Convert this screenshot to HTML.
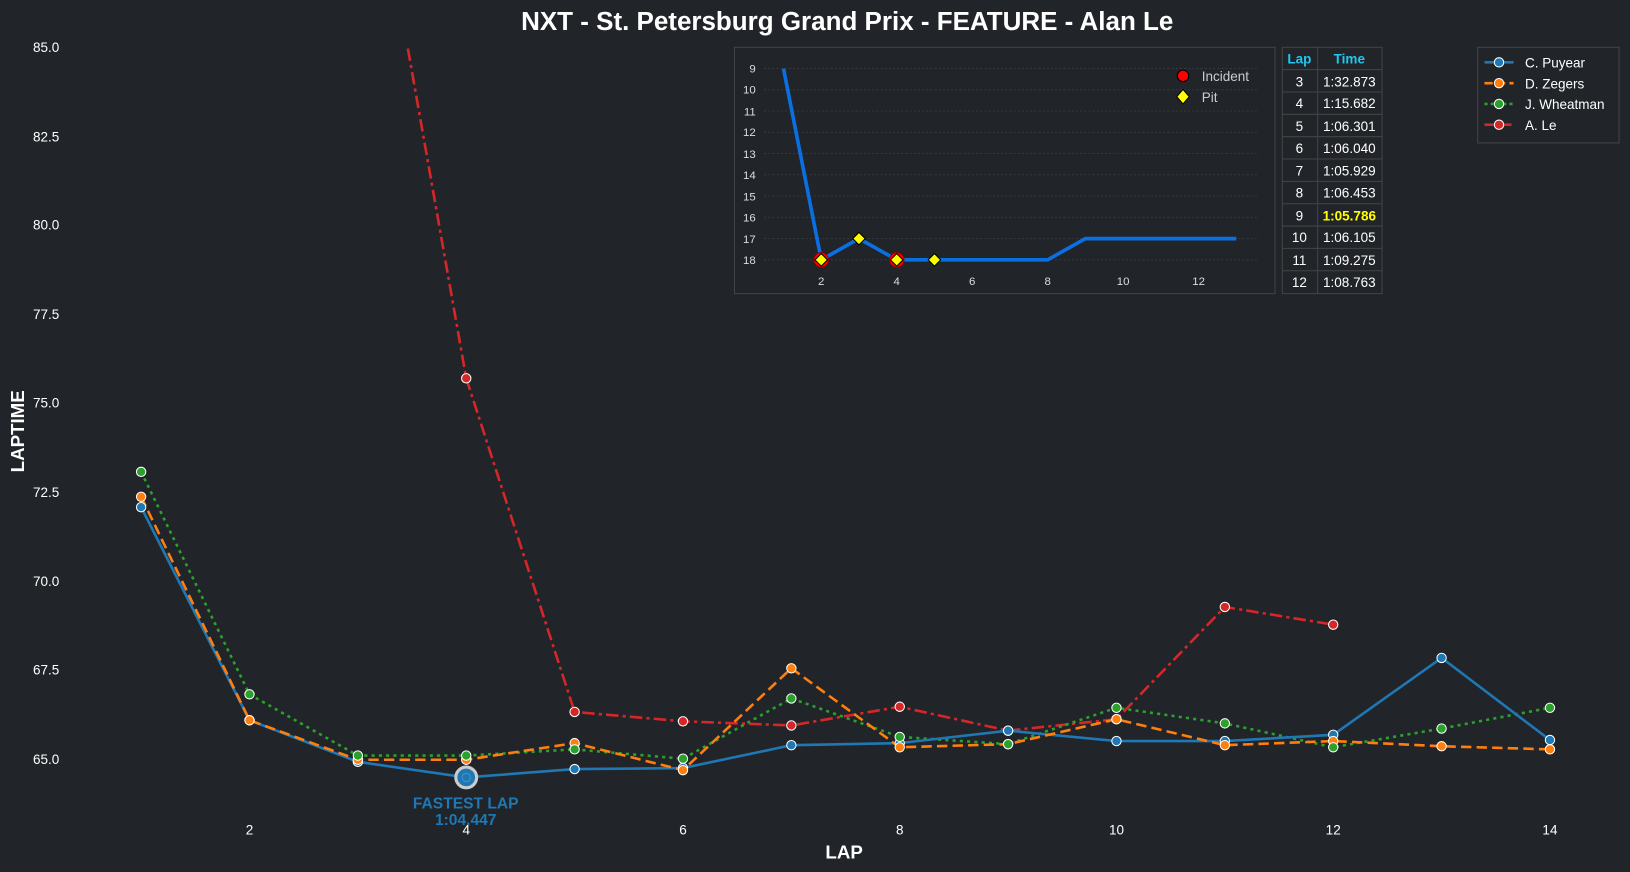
<!DOCTYPE html>
<html><head><meta charset="utf-8"><style>
body{margin:0;background:#212429;}
svg{display:block;font-family:"Liberation Sans",Arial,sans-serif;}
</style></head><body>
<svg width="1630" height="872" viewBox="0 0 1568 839" preserveAspectRatio="none" xmlns="http://www.w3.org/2000/svg">
<rect width="1568" height="839" fill="#212429"/>
<text x="815" y="29" text-anchor="middle" font-size="25" font-weight="bold" fill="#fff">NXT - St. Petersburg Grand Prix - FEATURE - Alan Le</text>
<g font-size="13" fill="#fff" text-anchor="end">
<text x="57" y="50">85.0</text><text x="57" y="136">82.5</text><text x="57" y="221">80.0</text>
<text x="57" y="307">77.5</text><text x="57" y="392">75.0</text><text x="57" y="478">72.5</text>
<text x="57" y="564">70.0</text><text x="57" y="649">67.5</text><text x="57" y="735">65.0</text>
</g>
<g font-size="13" fill="#fff" text-anchor="middle">
<text x="240" y="803">2</text><text x="448.5" y="803">4</text><text x="657" y="803">6</text>
<text x="865.5" y="803">8</text><text x="1074" y="803">10</text><text x="1282.5" y="803">12</text><text x="1491" y="803">14</text>
</g>
<text x="812" y="826" text-anchor="middle" font-size="18" font-weight="bold" fill="#fff">LAP</text>
<text x="23" y="415" text-anchor="middle" font-size="18" font-weight="bold" fill="#fff" transform="rotate(-90 23 415)">LAPTIME</text>
<defs><clipPath id="pc"><rect x="70" y="45" width="1480" height="780"/></clipPath></defs>
<g clip-path="url(#pc)" fill="none" stroke-width="2.5">
<polyline stroke="#d62728" stroke-dasharray="12,4,3,4" points="344.25,-225 448.5,364 552.75,685 657,694 761.25,698 865.5,680 969.75,703 1074,692 1178.25,584 1282.5,601"/>
<polyline stroke="#2ca02c" stroke-dasharray="3,4" points="135.75,454 240,668 344.25,727 448.5,727 552.75,721 657,730 761.25,672 865.5,709 969.75,716 1074,681 1178.25,696 1282.5,719 1386.75,701 1491,681"/>
<polyline stroke="#1f77b4" points="135.75,488 240,693 344.25,733 448.5,748 552.75,740 657,739 761.25,717 865.5,715 969.75,703 1074,713 1178.25,713 1282.5,707 1386.75,633 1491,712"/>
<polyline stroke="#ff7f0e" stroke-dasharray="10,5" points="135.75,478 240,693 344.25,731 448.5,731 552.75,715 657,741 761.25,643 865.5,719 969.75,716 1074,692 1178.25,717 1282.5,713 1386.75,718 1491,721"/>
</g>
<g stroke="#fff" stroke-width="1">
<g fill="#d62728"><circle cx="448.5" cy="364" r="4.5"/><circle cx="552.75" cy="685" r="4.5"/><circle cx="657" cy="694" r="4.5"/><circle cx="761.25" cy="698" r="4.5"/><circle cx="865.5" cy="680" r="4.5"/><circle cx="969.75" cy="703" r="4.5"/><circle cx="1074" cy="692" r="4.5"/><circle cx="1178.25" cy="584" r="4.5"/><circle cx="1282.5" cy="601" r="4.5"/></g>
<g fill="#1f77b4"><circle cx="135.75" cy="488" r="4.5"/><circle cx="240" cy="693" r="4.5"/><circle cx="344.25" cy="733" r="4.5"/><circle cx="552.75" cy="740" r="4.5"/><circle cx="657" cy="739" r="4.5"/><circle cx="761.25" cy="717" r="4.5"/><circle cx="865.5" cy="715" r="4.5"/><circle cx="969.75" cy="703" r="4.5"/><circle cx="1074" cy="713" r="4.5"/><circle cx="1178.25" cy="713" r="4.5"/><circle cx="1282.5" cy="707" r="4.5"/><circle cx="1386.75" cy="633" r="4.5"/><circle cx="1491" cy="712" r="4.5"/></g>
<g fill="#ff7f0e"><circle cx="135.75" cy="478" r="4.5"/><circle cx="240" cy="693" r="4.5"/><circle cx="344.25" cy="731" r="4.5"/><circle cx="448.5" cy="731" r="4.5"/><circle cx="552.75" cy="715" r="4.5"/><circle cx="657" cy="741" r="4.5"/><circle cx="761.25" cy="643" r="4.5"/><circle cx="865.5" cy="719" r="4.5"/><circle cx="969.75" cy="716" r="4.5"/><circle cx="1074" cy="692" r="4.5"/><circle cx="1178.25" cy="717" r="4.5"/><circle cx="1282.5" cy="713" r="4.5"/><circle cx="1386.75" cy="718" r="4.5"/><circle cx="1491" cy="721" r="4.5"/></g>
<g fill="#2ca02c"><circle cx="135.75" cy="454" r="4.5"/><circle cx="240" cy="668" r="4.5"/><circle cx="344.25" cy="727" r="4.5"/><circle cx="448.5" cy="727" r="4.5"/><circle cx="552.75" cy="721" r="4.5"/><circle cx="657" cy="730" r="4.5"/><circle cx="761.25" cy="672" r="4.5"/><circle cx="865.5" cy="709" r="4.5"/><circle cx="969.75" cy="716" r="4.5"/><circle cx="1074" cy="681" r="4.5"/><circle cx="1178.25" cy="696" r="4.5"/><circle cx="1282.5" cy="719" r="4.5"/><circle cx="1386.75" cy="701" r="4.5"/><circle cx="1491" cy="681" r="4.5"/></g>
</g>
<circle cx="448.5" cy="748" r="10" fill="#1f77b4" stroke="#ccc" stroke-width="3"/>
<circle cx="448.5" cy="748" r="4" fill="none" stroke="#4a90c8" stroke-width="1"/>
<text x="448" y="778" text-anchor="middle" font-size="15" font-weight="bold" fill="#1f77b4">FASTEST LAP</text>
<text x="448" y="794" text-anchor="middle" font-size="15" font-weight="bold" fill="#1f77b4">1:04.447</text>
<!-- inset -->
<rect x="706.5" y="45.5" width="520" height="237" fill="#212429" stroke="#444" stroke-width="1"/>
<g stroke="#3a3d42" stroke-width="0.8" stroke-dasharray="2,2">
<line x1="735" x2="1210" y1="66" y2="66"/><line x1="735" x2="1210" y1="86.4" y2="86.4"/><line x1="735" x2="1210" y1="106.9" y2="106.9"/><line x1="735" x2="1210" y1="127.3" y2="127.3"/><line x1="735" x2="1210" y1="147.8" y2="147.8"/><line x1="735" x2="1210" y1="168.2" y2="168.2"/><line x1="735" x2="1210" y1="188.7" y2="188.7"/><line x1="735" x2="1210" y1="209.1" y2="209.1"/><line x1="735" x2="1210" y1="229.6" y2="229.6"/><line x1="735" x2="1210" y1="250" y2="250"/>
</g>
<g font-size="11" fill="#ddd" text-anchor="end">
<text x="727" y="70">9</text><text x="727" y="90">10</text><text x="727" y="111">11</text><text x="727" y="131">12</text><text x="727" y="152">13</text><text x="727" y="172">14</text><text x="727" y="193">15</text><text x="727" y="213">16</text><text x="727" y="234">17</text><text x="727" y="254">18</text>
</g>
<g font-size="11" fill="#ddd" text-anchor="middle">
<text x="790" y="274">2</text><text x="862.6" y="274">4</text><text x="935.2" y="274">6</text><text x="1007.8" y="274">8</text><text x="1080.4" y="274">10</text><text x="1153" y="274">12</text>
</g>
<polyline fill="none" stroke="#0a6fe0" stroke-width="3.5" points="753.7,66 790,250 826.3,229.6 862.6,250 898.9,250 935.2,250 971.5,250 1007.8,250 1044.1,229.6 1080.4,229.6 1116.7,229.6 1153,229.6 1189.3,229.6"/>
<circle cx="790" cy="250" r="7" fill="#f00" stroke="#900"/><circle cx="862.6" cy="250" r="7" fill="#f00" stroke="#900"/>
<g fill="#ff0" stroke="#000" stroke-width="1">
<polygon points="790,244 796,250 790,256 784,250"/><polygon points="826.3,223.6 832.3,229.6 826.3,235.6 820.3,229.6"/><polygon points="862.6,244 868.6,250 862.6,256 856.6,250"/><polygon points="898.9,244 904.9,250 898.9,256 892.9,250"/>
</g>
<circle cx="1138" cy="73" r="5.5" fill="#f00" stroke="#000"/>
<polygon points="1138,86 1144,93 1138,100 1132,93" fill="#ff0" stroke="#000"/>
<text x="1156" y="78" font-size="13" fill="#ccc">Incident</text>
<text x="1156" y="98" font-size="13" fill="#ccc">Pit</text>
<!-- table -->
<g stroke="#444" stroke-width="1" fill="none">
<rect x="1233.5" y="45.5" width="96" height="237"/>
<line x1="1267.5" y1="45.5" x2="1267.5" y2="282.5"/>
<line x1="1233.5" x2="1329.5" y1="67" y2="67"/><line x1="1233.5" x2="1329.5" y1="88.5" y2="88.5"/><line x1="1233.5" x2="1329.5" y1="110" y2="110"/><line x1="1233.5" x2="1329.5" y1="131.5" y2="131.5"/><line x1="1233.5" x2="1329.5" y1="153" y2="153"/><line x1="1233.5" x2="1329.5" y1="174.5" y2="174.5"/><line x1="1233.5" x2="1329.5" y1="196" y2="196"/><line x1="1233.5" x2="1329.5" y1="217.5" y2="217.5"/><line x1="1233.5" x2="1329.5" y1="239" y2="239"/><line x1="1233.5" x2="1329.5" y1="260.5" y2="260.5"/>
</g>
<g font-size="13" text-anchor="middle" fill="#fff">
<text x="1250" y="61" fill="#1ec8f0" font-weight="bold">Lap</text><text x="1298" y="61" fill="#1ec8f0" font-weight="bold">Time</text>
<text x="1250" y="83">3</text><text x="1298" y="83">1:32.873</text>
<text x="1250" y="104">4</text><text x="1298" y="104">1:15.682</text>
<text x="1250" y="126">5</text><text x="1298" y="126">1:06.301</text>
<text x="1250" y="147">6</text><text x="1298" y="147">1:06.040</text>
<text x="1250" y="169">7</text><text x="1298" y="169">1:05.929</text>
<text x="1250" y="190">8</text><text x="1298" y="190">1:06.453</text>
<text x="1250" y="212">9</text><text x="1298" y="212" fill="#ff0" font-weight="bold">1:05.786</text>
<text x="1250" y="233">10</text><text x="1298" y="233">1:06.105</text>
<text x="1250" y="255">11</text><text x="1298" y="255">1:09.275</text>
<text x="1250" y="276">12</text><text x="1298" y="276">1:08.763</text>
</g>
<!-- legend -->
<rect x="1421.5" y="45.5" width="136" height="92" fill="#212429" stroke="#444"/>
<g stroke-width="2.5" fill="none">
<line x1="1428" x2="1456" y1="60" y2="60" stroke="#1f77b4"/>
<line x1="1428" x2="1456" y1="80" y2="80" stroke="#ff7f0e" stroke-dasharray="8,4"/>
<line x1="1428" x2="1456" y1="100" y2="100" stroke="#2ca02c" stroke-dasharray="3,3"/>
<line x1="1428" x2="1456" y1="120" y2="120" stroke="#d62728" stroke-dasharray="9,3,2,3"/>
</g>
<g stroke="#fff"><circle cx="1442" cy="60" r="4.5" fill="#1f77b4"/><circle cx="1442" cy="80" r="4.5" fill="#ff7f0e"/><circle cx="1442" cy="100" r="4.5" fill="#2ca02c"/><circle cx="1442" cy="120" r="4.5" fill="#d62728"/></g>
<g font-size="13" fill="#fff">
<text x="1467" y="65">C. Puyear</text><text x="1467" y="85">D. Zegers</text><text x="1467" y="105">J. Wheatman</text><text x="1467" y="125">A. Le</text>
</g>
</svg>
</body></html>
